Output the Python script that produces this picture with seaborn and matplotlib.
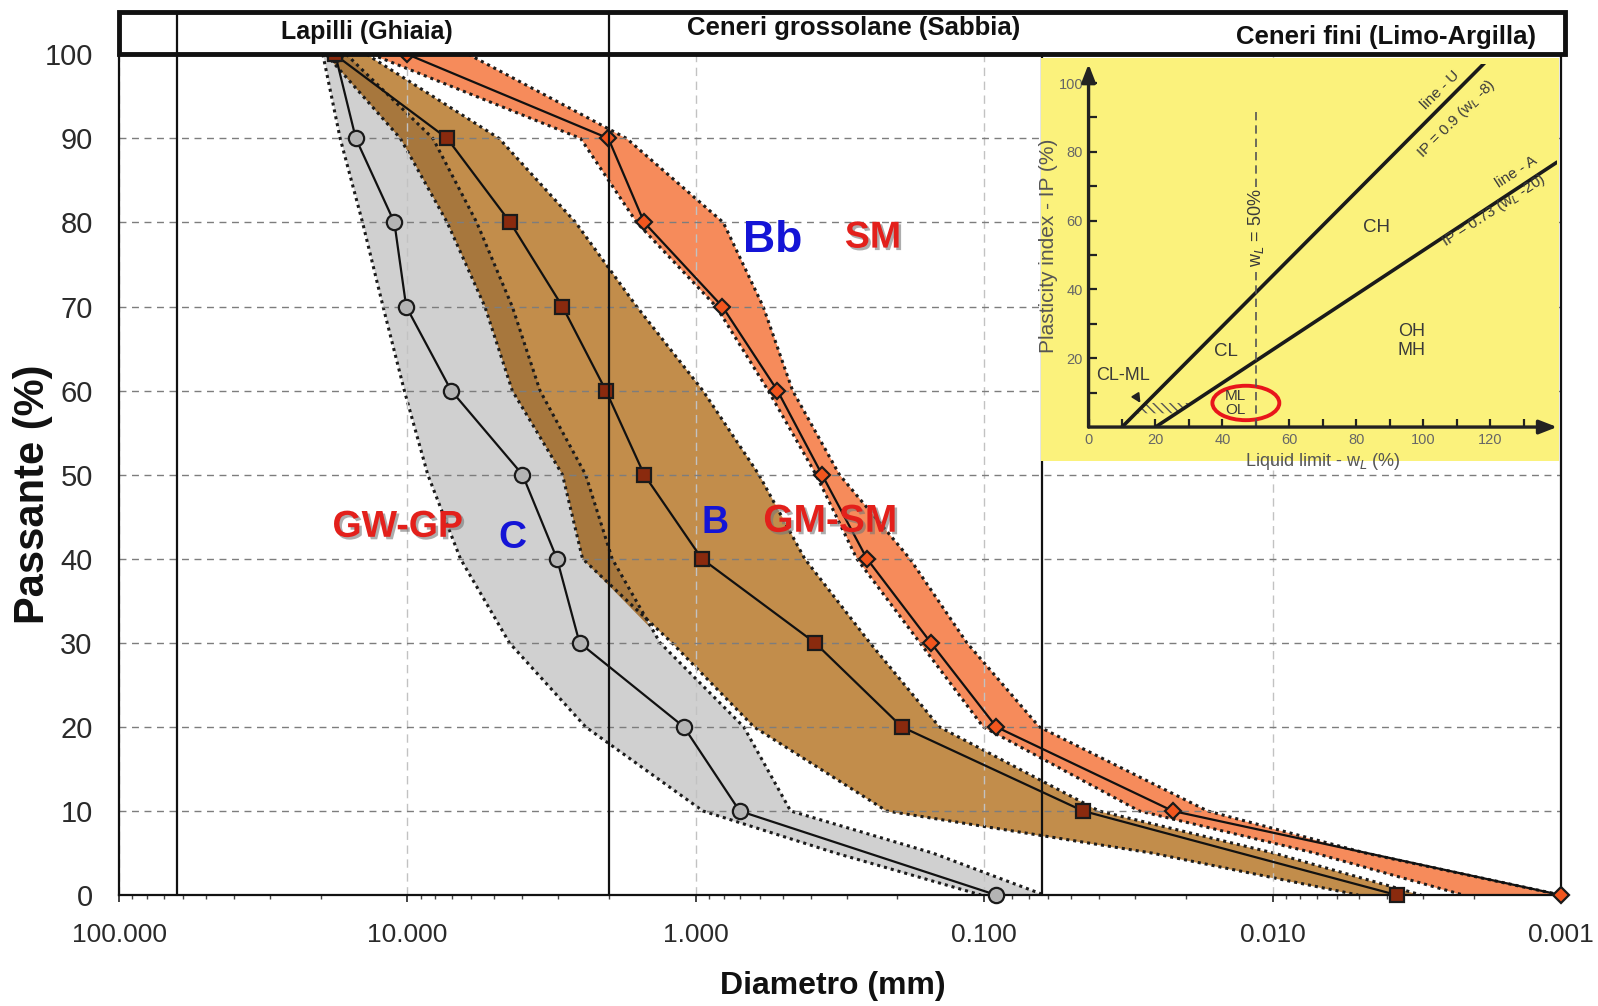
import matplotlib
matplotlib.use('Agg')
import matplotlib.pyplot as plt
import matplotlib.patheffects as pe
from matplotlib.patches import Rectangle, Ellipse, Polygon
from matplotlib.ticker import LogLocator, NullFormatter
import numpy as np
import seaborn as sns

# --- median grading curves (diameter in mm vs % passing) ---
passing = [100, 90, 80, 70, 60, 50, 40, 30, 20, 10, 0]
diam_C = [17.8, 15.1, 11.1, 10.1, 7.05, 3.99, 3.03, 2.53, 1.10, 0.705, 0.0908]
diam_B = [17.9, 7.28, 4.40, 2.90, 2.05, 1.51, 0.953, 0.386, 0.193, 0.0454, 0.00371]
diam_Bb = [10.0, 2.01, 1.51, 0.809, 0.521, 0.365, 0.255, 0.153, 0.0908, 0.0222, 0.001]

# --- envelope of each group (coarse side / fine side) ---
band_levels = [100, 90, 80, 70, 60, 50, 40, 30, 20, 10, 5, 0]
grey_coarse = [19.65, 17.11, 14.31, 12.15, 10.25, 8.50, 6.55, 4.43, 2.41, 0.945, 0.328, 0.1025]
grey_fine = [16.29, 8.16, 5.75, 4.33, 3.47, 2.41, 1.95, 1.33, 0.682, 0.469, 0.151, 0.0619]
brown_coarse = [19.17, 10.58, 7.28, 5.39, 4.33, 2.90, 2.47, 1.21, 0.629, 0.218, 0.0263, 0.00505]
brown_fine = [13.84, 4.81, 2.61, 1.603, 0.945, 0.604, 0.419, 0.249, 0.143, 0.040, 0.00992, 0.00305]
orange_coarse = [13.30, 2.51, 1.603, 0.850, 0.561, 0.383, 0.2765, 0.167, 0.1008, 0.029, 0.00716, 0.00218]
orange_fine = [6.14, 1.739, 0.803, 0.584, 0.4616, 0.3176, 0.181, 0.1148, 0.0644, 0.0168, 0.00477, 0.001]

x_ticks = [100, 10, 1, 0.1, 0.01, 0.001]
x_ticklabels = ['100.000', '10.000', '1.000', '0.100', '0.010', '0.001']
class_limits = [63, 2, 0.063]

# --- plasticity chart (inset) ---
u_line_wl, u_line_ip = [10, 118.5], [0, 106]
a_line_wl, a_line_ip = [20, 140], [0, 77]
wl50_wl, wl50_ip = [50, 50], [0, 92]
clml_wl, clml_ip = [14.1, 26.3, 30.9, 17.2], [4, 4, 7, 7]

sns.set_theme(style='white')
plt.rcParams['font.family'] = ['Liberation Sans', 'DejaVu Sans']
plt.rcParams['hatch.linewidth'] = 1.0

fig = plt.figure(figsize=(15.98, 10.06), dpi=100)
ax = fig.add_axes([0.0745, 0.1103, 0.9023, 0.8357])
ax.set_xscale('log')

dot = (0, (1, 1.3))
ax.fill_betweenx(band_levels, grey_coarse, grey_fine, color='#d0d0d0', lw=0, zorder=1)
ax.fill_betweenx(band_levels, brown_coarse, brown_fine, color='#c28d4b', lw=0, zorder=1.05)
ax.fill_betweenx(band_levels, orange_coarse, orange_fine, color='#f68b5b', lw=0, zorder=1.05)
gf, bc = np.array(grey_fine), np.array(brown_coarse)
ax.fill_betweenx(band_levels, grey_fine, brown_coarse, where=bc > gf, interpolate=True,
                 color='#a7773d', lw=0, zorder=1.1)
for edge in [grey_coarse, grey_fine, brown_coarse, brown_fine, orange_coarse, orange_fine]:
    ax.plot(edge, band_levels, color='#1c1c1c', lw=2.2, ls=dot, zorder=1.3)

curves = [(diam_C, 'o', 11, '#b4b4b4'), (diam_B, 's', 10, '#8a2a0e'), (diam_Bb, 'D', 8.5, '#f2561e')]
for d, mk, ms, fc in curves:
    sns.lineplot(x=d, y=passing, sort=False, estimator=None, ax=ax, color='#111111', lw=1.6,
                 marker=mk, markersize=ms, markerfacecolor=fc, markeredgecolor='#1a1a1a',
                 markeredgewidth=1.6, zorder=3, clip_on=False)

ax.set_xlim(100, 0.001)
ax.set_ylim(0, 100)
ax.set_xticks(x_ticks)
ax.set_xticklabels(x_ticklabels)
ax.xaxis.set_minor_locator(LogLocator(base=10, subs=np.arange(2, 10)))
ax.xaxis.set_minor_formatter(NullFormatter())
ax.set_yticks(range(0, 101, 10))
ax.tick_params(axis='x', which='major', bottom=True, direction='out', length=5, width=1.2,
               color='#222', pad=15, labelsize=19, labelcolor='#2a2a2a')
ax.tick_params(axis='x', which='minor', bottom=True, direction='out', length=3, width=1, color='#444')
ax.tick_params(axis='y', left=False, pad=13, labelsize=21, labelcolor='#2a2a2a')

ax.yaxis.grid(True, color='#7d7d7d', ls=(0, (5, 4)), lw=1)
ax.xaxis.grid(True, which='major', color='#c2c2c2', ls=(0, (6, 4)), lw=1)
ax.set_axisbelow('line')
for s in ax.spines.values():
    s.set_color('#111')
    s.set_linewidth(1.6)

ax.set_xlabel('Diametro (mm)', fontsize=23, fontweight='bold', color='#111')
ax.xaxis.set_label_coords(0.495, -0.09)
ax.set_ylabel('Passante (%)', fontsize=30, fontweight='bold', color='#111')
ax.yaxis.set_label_coords(-0.046, 0.477)

for xv, top in zip(class_limits, [1.05, 1.05, 1.0]):
    ax.axvline(xv, ymin=0, ymax=top, color='#111', lw=1.6, zorder=6, clip_on=False)

# header with the grain classes
ax.add_patch(Rectangle((0, 1.0), 1.003, 0.05, transform=ax.transAxes, facecolor='white',
                       edgecolor='#111', lw=3.5, clip_on=False, zorder=5))
xt = ax.get_xaxis_transform()
head_font = ['Liberation Sans Narrow', 'Liberation Sans']
ax.text(13.8, 1.027, 'Lapilli (Ghiaia)', transform=xt, ha='center', va='center', fontsize=18,
        fontweight='bold', family=head_font, zorder=7, color='#111')
ax.text(0.283, 1.031, 'Ceneri grossolane (Sabbia)', transform=xt, ha='center', va='center',
        fontsize=18.5, fontweight='bold', family=head_font, zorder=7, color='#111')
ax.text(0.00405, 1.021, 'Ceneri fini (Limo-Argilla)', transform=xt, ha='center', va='center',
        fontsize=18.5, fontweight='bold', family=head_font, zorder=7, color='#111')

shadow = [pe.SimplePatchShadow(offset=(1.8, -1.8), shadow_rgbFace='#777777', alpha=0.6), pe.Normal()]
red, blue = '#e3201b', '#1414d6'
ax.text(0.54, 77.9, 'Bb', color=blue, fontsize=32, fontweight='bold', ha='center', va='center', zorder=4)
ax.text(0.243, 78.2, 'SM', color=red, fontsize=27, fontweight='bold', ha='center', va='center',
        zorder=4, path_effects=shadow)
ax.text(10.8, 43.8, 'GW-GP', color=red, fontsize=27, fontweight='bold', ha='center', va='center',
        zorder=4, path_effects=shadow)
ax.text(4.33, 42.5, 'C', color=blue, fontsize=28, fontweight='bold', ha='center', va='center', zorder=4)
ax.text(0.857, 44.2, 'B', color=blue, fontsize=27, fontweight='bold', ha='center', va='center', zorder=4)
ax.text(0.342, 44.4, 'GM-SM', color=red, fontsize=28, fontweight='bold', ha='center', va='center',
        zorder=4, path_effects=shadow)

# --- inset: plasticity chart ---
ax_box = fig.add_axes([0.6515, 0.5417, 0.324, 0.4006])
ax_box.set_facecolor('#fbf27c')
ax_box.set_xticks([])
ax_box.set_yticks([])
for s in ax_box.spines.values():
    s.set_visible(False)

ax_in = fig.add_axes([0.6812, 0.5755, 0.2932, 0.3608])
ax_in.set_facecolor('none')
ax_in.set_xlim(0, 140)
ax_in.set_ylim(0, 105.5)
for s in ax_in.spines.values():
    s.set_visible(False)
arrow = dict(arrowstyle='-|>,head_length=0.9,head_width=0.35', color='#222', lw=2.4, shrinkA=0, shrinkB=0)
ax_in.annotate('', xy=(140, 0), xytext=(0, 0), arrowprops=arrow, annotation_clip=False)
ax_in.annotate('', xy=(0, 105.5), xytext=(0, 0), arrowprops=arrow, annotation_clip=False)
ax_in.set_xticks(range(0, 121, 20))
ax_in.set_xticks(range(10, 131, 20), minor=True)
ax_in.set_yticks(range(20, 101, 20))
ax_in.set_yticks(range(10, 100, 20), minor=True)
ax_in.tick_params(which='both', bottom=True, left=True, direction='in', length=6, width=1.6,
                  color='#222', labelsize=10.5, labelcolor='#666', pad=4)

ax_in.plot(u_line_wl, u_line_ip, color='#1a1a1a', lw=2.6)
ax_in.plot(a_line_wl, a_line_ip, color='#1a1a1a', lw=2.6)
ax_in.plot(wl50_wl, wl50_ip, color='#555', lw=1.2, ls=(0, (5, 3)))
ax_in.add_patch(Polygon(np.column_stack([clml_wl, clml_ip]), closed=True, fill=False,
                        hatch='\\\\\\\\', edgecolor='#555', lw=0))
ax_in.add_patch(Ellipse((47, 7), 20, 10, fill=False, edgecolor='#e8151b', lw=2.8))

tc = '#3a3a3a'
ax_in.text(50, 58, 'w$_L$ = 50%', rotation=90, ha='center', va='center', fontsize=13, color=tc,
           bbox=dict(facecolor='#fbf27c', edgecolor='none', pad=1))
ax_in.text(41, 22, 'CL', fontsize=13.5, color=tc, ha='center', va='center')
ax_in.text(86, 58, 'CH', fontsize=13.5, color=tc, ha='center', va='center')
ax_in.text(96.5, 25, 'OH\nMH', fontsize=13, color=tc, ha='center', va='center', linespacing=1.1)
ax_in.text(44, 7, 'ML\nOL', fontsize=11, color=tc, ha='center', va='center', linespacing=1.0)
ax_in.annotate('CL-ML', xy=(15.5, 7), xytext=(10.4, 15), fontsize=13, color=tc, ha='center',
               va='center', arrowprops=dict(arrowstyle='-|>', color='#222', lw=1.4, shrinkA=9, shrinkB=0))
ax_in.text(105, 98, 'line - U', rotation=45, fontsize=11, color=tc, ha='center', va='center')
ax_in.text(110, 89.5, 'IP = 0.9 (w$_L$ -8)', rotation=45, fontsize=11, color=tc, ha='center', va='center')
ax_in.text(127.8, 74, 'line - A', rotation=33, fontsize=11, color=tc, ha='center', va='center')
ax_in.text(121, 63, 'IP = 0.73 (w$_L$ -20)', rotation=33, fontsize=11, color=tc, ha='center', va='center')
ax_in.set_xlabel('Liquid limit - w$_L$ (%)', fontsize=13, color='#555', labelpad=3)
ax_in.set_ylabel('Plasticity index - IP (%)', fontsize=15, color='#555', labelpad=0)

fig.savefig('out.png', dpi=100)
